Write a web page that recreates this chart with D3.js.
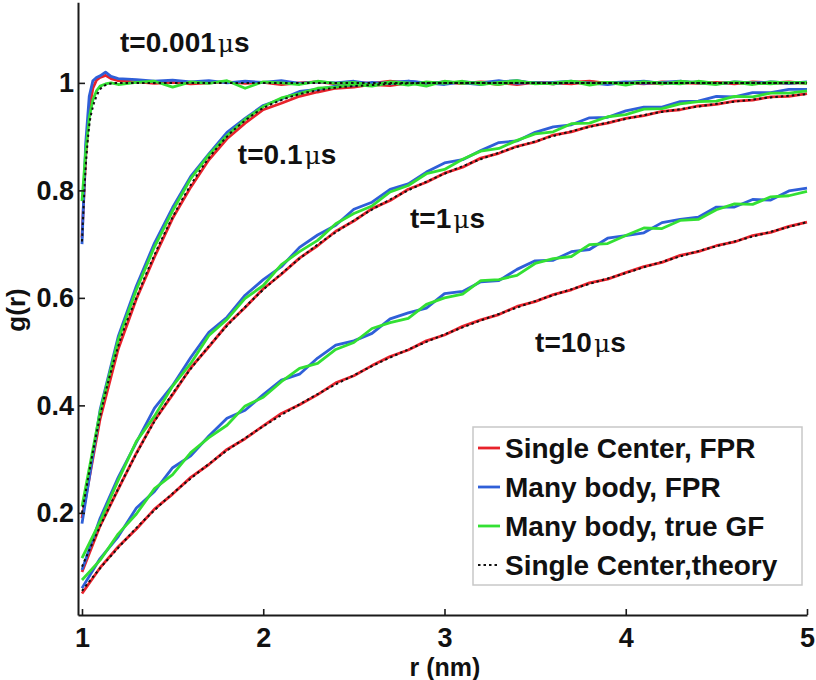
<!DOCTYPE html>
<html><head><meta charset="utf-8">
<script src="https://cdn.jsdelivr.net/npm/d3@7"></script>
<style>body{margin:0;background:#fff}svg{display:block}</style>
</head><body>
<svg id="c" width="816" height="680"></svg>
<script>
// ---------- DATA ----------
const rFine = [1.00,1.02,1.04,1.06,1.08,1.10,1.13,1.16,1.20,1.3,1.4,1.5,1.6,1.7,1.8,1.9,2.0,2.1,2.2,2.3,2.4,2.5,2.6,2.7,2.8,2.9,3.0,3.1,3.2,3.3,3.4,3.5,3.6,3.7,3.8,3.9,4.0,4.1,4.2,4.3,4.4,4.5,4.6,4.7,4.8,4.9,5.0];
const rGrid = [1.0,1.1,1.2,1.3,1.4,1.5,1.6,1.7,1.8,1.9,2.0,2.1,2.2,2.3,2.4,2.5,2.6,2.7,2.8,2.9,3.0,3.1,3.2,3.3,3.4,3.5,3.6,3.7,3.8,3.9,4.0,4.1,4.2,4.3,4.4,4.5,4.6,4.7,4.8,4.9,5.0];

// t = 0.001 us (on rFine)
const red001   = [0.712,0.860,0.950,0.990,1.005,1.010,1.014,1.008,1.004,1.002,0.999,1.001,0.998,1.000,1.002,0.999,1.001,0.997,1.000,1.002,0.998,1.001,0.999,1.003,1.000,0.998,1.001,0.999,1.002,1.000,0.997,1.001,1.000,0.998,1.002,0.999,1.001,1.000,0.998,1.002,1.000,0.999,1.001,0.998,1.000,1.002,0.999];
const blue001  = [0.700,0.885,0.975,1.004,1.010,1.013,1.020,1.012,1.008,1.006,1.003,1.005,1.002,1.004,1.000,1.003,1.001,1.004,0.999,1.002,1.000,1.003,0.998,1.001,1.003,0.999,1.002,1.000,0.997,1.002,1.004,0.999,1.001,1.003,0.998,1.000,1.002,0.999,1.001,1.003,1.000,0.998,1.002,1.000,1.001,0.999,1.002];
const green001 = [0.780,0.870,0.935,0.968,0.985,0.994,0.998,1.000,0.997,1.001,1.003,0.992,1.002,0.999,1.004,0.990,1.002,1.000,0.997,1.003,0.999,1.001,0.996,1.002,1.000,0.994,1.003,0.999,1.001,0.997,1.002,1.000,0.998,1.003,0.999,1.001,0.996,1.002,1.000,0.998,1.003,0.999,1.001,0.997,1.002,1.000,1.001];
const theory001= [0.705,0.840,0.920,0.955,0.975,0.988,0.996,0.999,1,1,1,1,1,1,1,1,1,1,1,1,1,1,1,1,1,1,1,1,1,1,1,1,1,1,1,1,1,1,1,1,1,1,1,1,1,1,1];

// t = 0.1 us (on rGrid)
const red01    = [0.190,0.375,0.505,0.598,0.676,0.748,0.806,0.857,0.896,0.925,0.950,0.962,0.975,0.983,0.990,0.992,0.997,0.995,1.000,0.998,1.002,0.999,1.001,0.997,1.002,1.000,0.998,1.001,1.003,0.999,1.000,0.998,1.002,1.000,0.999,1.001,0.998,1.002,1.000,0.999,1.001];
const blue01   = [0.180,0.392,0.528,0.622,0.702,0.768,0.826,0.868,0.908,0.934,0.958,0.970,0.984,0.988,0.994,0.996,1.001,0.998,1.003,1.000,0.997,1.002,1.000,1.004,0.999,1.001,0.998,1.002,1.000,0.997,1.001,1.003,0.999,1.000,1.002,0.998,1.001,0.999,1.002,1.000,1.001];
const green01  = [0.212,0.388,0.522,0.615,0.695,0.762,0.822,0.866,0.902,0.932,0.956,0.972,0.980,0.990,0.992,0.997,0.994,1.000,0.996,1.002,0.999,1.003,0.997,1.001,1.004,0.998,1.000,1.003,0.996,1.001,0.999,1.002,0.998,1.003,1.000,0.997,1.002,1.000,0.998,1.001,0.999];
const theory01 = [0.200,0.380,0.510,0.600,0.680,0.750,0.810,0.860,0.900,0.930,0.953,0.968,0.979,0.986,0.991,0.994,0.996,0.998,0.999,1,1,1,1,1,1,1,1,1,1,1,1,1,1,1,1,1,1,1,1,1,1];

// t = 1 us
const red1     = [0.090,0.176,0.244,0.311,0.372,0.420,0.470,0.509,0.550,0.582,0.617,0.644,0.674,0.697,0.724,0.743,0.766,0.781,0.802,0.815,0.832,0.843,0.860,0.869,0.882,0.890,0.903,0.909,0.919,0.925,0.934,0.939,0.947,0.950,0.957,0.960,0.966,0.968,0.974,0.975,0.980];
const blue1    = [0.094,0.190,0.266,0.331,0.395,0.437,0.489,0.536,0.564,0.605,0.634,0.658,0.694,0.717,0.735,0.765,0.778,0.802,0.812,0.834,0.851,0.857,0.874,0.889,0.892,0.908,0.918,0.922,0.935,0.936,0.948,0.955,0.955,0.965,0.966,0.975,0.974,0.982,0.982,0.988,0.988];
const green1   = [0.116,0.184,0.261,0.333,0.380,0.436,0.478,0.530,0.560,0.599,0.623,0.662,0.686,0.707,0.738,0.757,0.771,0.797,0.809,0.831,0.839,0.858,0.873,0.878,0.893,0.905,0.909,0.924,0.925,0.937,0.941,0.951,0.952,0.961,0.965,0.966,0.975,0.974,0.981,0.981,0.985];
const theory1  = [0.100,0.175,0.245,0.310,0.370,0.422,0.468,0.510,0.548,0.583,0.615,0.645,0.673,0.699,0.722,0.744,0.764,0.783,0.800,0.816,0.831,0.845,0.858,0.870,0.881,0.891,0.901,0.910,0.918,0.926,0.933,0.940,0.946,0.951,0.956,0.961,0.965,0.969,0.973,0.976,0.979];

// t = 10 us
const red10    = [0.050,0.098,0.137,0.170,0.207,0.235,0.266,0.290,0.318,0.338,0.362,0.385,0.401,0.420,0.442,0.455,0.474,0.491,0.503,0.520,0.531,0.547,0.559,0.569,0.584,0.593,0.606,0.615,0.628,0.635,0.647,0.658,0.666,0.679,0.686,0.697,0.704,0.716,0.722,0.733,0.741];
const blue10   = [0.060,0.115,0.156,0.209,0.240,0.284,0.306,0.343,0.376,0.391,0.420,0.447,0.458,0.488,0.512,0.520,0.534,0.561,0.572,0.581,0.608,0.612,0.630,0.632,0.653,0.669,0.670,0.686,0.690,0.711,0.716,0.721,0.740,0.746,0.750,0.769,0.769,0.783,0.782,0.799,0.804];
const green10  = [0.075,0.112,0.161,0.198,0.245,0.271,0.312,0.340,0.363,0.399,0.415,0.444,0.469,0.478,0.504,0.517,0.543,0.554,0.562,0.588,0.600,0.607,0.632,0.634,0.642,0.664,0.673,0.677,0.699,0.701,0.716,0.730,0.729,0.744,0.746,0.764,0.775,0.774,0.788,0.790,0.798];
const theory10 = [0.055,0.097,0.135,0.172,0.205,0.236,0.264,0.291,0.316,0.339,0.361,0.382,0.402,0.421,0.439,0.456,0.473,0.489,0.504,0.518,0.532,0.545,0.558,0.570,0.582,0.594,0.605,0.616,0.626,0.636,0.646,0.657,0.667,0.677,0.687,0.696,0.705,0.714,0.723,0.732,0.741];

const xTicks = [1,2,3,4,5];
const yTicks = [0.2,0.4,0.6,0.8,1];
const seriesNames = ["Single Center, FPR","Many body, FPR","Many body, true GF","Single Center,theory"];
const annotations = [
  {t:"0.001", r:1.21, g:1.058},
  {t:"0.1",   r:1.86, g:0.850},
  {t:"1",     r:2.81, g:0.730},
  {t:"10",    r:3.50, g:0.500}
];

// ---------- CHART ----------
const svg = d3.select("#c");
const FONT = "'Liberation Sans', Arial, Helvetica, sans-serif";
const colors = ["#e8222b","#2f5fd8","#33e033","#111111"];

const x = d3.scaleLinear().domain([0.978, 5]).range([78, 807]);
const y = d3.scaleLinear().domain([0.01, 1.15]).range([615, 2.25]);

const groups = [
  {r:rFine, s:[red001, blue001, green001, theory001]},
  {r:rGrid, s:[red01, blue01, green01, theory01]},
  {r:rGrid, s:[red1, blue1, green1, theory1]},
  {r:rGrid, s:[red10, blue10, green10, theory10]}
];

const lineLin = d3.line().x(d=>x(d[0])).y(d=>y(d[1]));
const lineSmooth = d3.line().x(d=>x(d[0])).y(d=>y(d[1])).curve(d3.curveMonotoneX);

const plot = svg.append("g");
for (let k = 0; k < 4; k++) {         // draw order: red, blue, green, theory
  groups.forEach(gp => {
    const pts = gp.r.map((rv,i)=>[rv, gp.s[k][i]]);
    const p = plot.append("path")
      .attr("d", k===3 ? lineSmooth(pts) : lineLin(pts))
      .attr("fill","none")
      .attr("stroke", colors[k])
      .attr("stroke-linejoin","round");
    if (k===3) p.attr("stroke-width",2).attr("stroke-dasharray","2.5,3");
    else p.attr("stroke-width",2.8);
  });
}

// axes
const xAxis = d3.axisBottom(x).tickValues(xTicks).tickFormat(d3.format("d"))
  .tickSizeInner(-6).tickSizeOuter(0).tickPadding(13);
const yAxis = d3.axisLeft(y).tickValues(yTicks).tickFormat(d=> d===1 ? "1" : d3.format(".1f")(d))
  .tickSizeInner(-7).tickSizeOuter(0).tickPadding(4);

const gx = svg.append("g").attr("transform","translate(0,615)").call(xAxis);
const gy = svg.append("g").attr("transform","translate(78,0)").call(yAxis);
[gx,gy].forEach(g=>{
  g.select(".domain").attr("stroke","#1a1a1a").attr("stroke-width",2);
  g.selectAll(".tick line").attr("stroke","#1a1a1a").attr("stroke-width",1.6);
  g.selectAll(".tick text").attr("fill","#111").style("font-family",FONT)
    .style("font-weight","bold").style("font-size","27px");
});

// axis labels
svg.append("text").attr("x",445).attr("y",676).attr("text-anchor","middle")
  .style("font-family",FONT).style("font-weight","bold").style("font-size","25px").attr("fill","#111")
  .text("r (nm)");
svg.append("text").attr("transform","translate(25,310) rotate(-90)").attr("text-anchor","middle")
  .style("font-family",FONT).style("font-weight","bold").style("font-size","26px").attr("fill","#111")
  .text("g(r)");

// annotations
annotations.forEach(a=>{
  const t = svg.append("text").attr("x",x(a.r)).attr("y",y(a.g))
    .style("font-family",FONT).style("font-weight","bold").style("font-size","28px").attr("fill","#111");
  t.append("tspan").text("t=" + a.t);
  t.append("tspan").style("font-weight","normal").style("font-family","'DejaVu Serif', serif").style("font-size","25px").attr("dx",2).text("\u03bc");
  t.append("tspan").text("s");
});

// legend
const lg = svg.append("g");
lg.append("rect").attr("x",473).attr("y",427).attr("width",329).attr("height",158)
  .attr("fill","#fff").attr("stroke","#c8c8c8").attr("stroke-width",1.5);
seriesNames.forEach((name,i)=>{
  const ly = 448 + i*39;
  const ln = lg.append("line").attr("x1",478).attr("x2",500).attr("y1",ly).attr("y2",ly)
    .attr("stroke",colors[i]);
  if (i===3) ln.attr("stroke-width",2).attr("stroke-dasharray","2.5,3");
  else ln.attr("stroke-width",2.8);
  lg.append("text").attr("x",505).attr("y",ly+10)
    .style("font-family",FONT).style("font-weight","bold").style("font-size","28px").attr("fill","#111")
    .text(name);
});
</script>
</body></html>
